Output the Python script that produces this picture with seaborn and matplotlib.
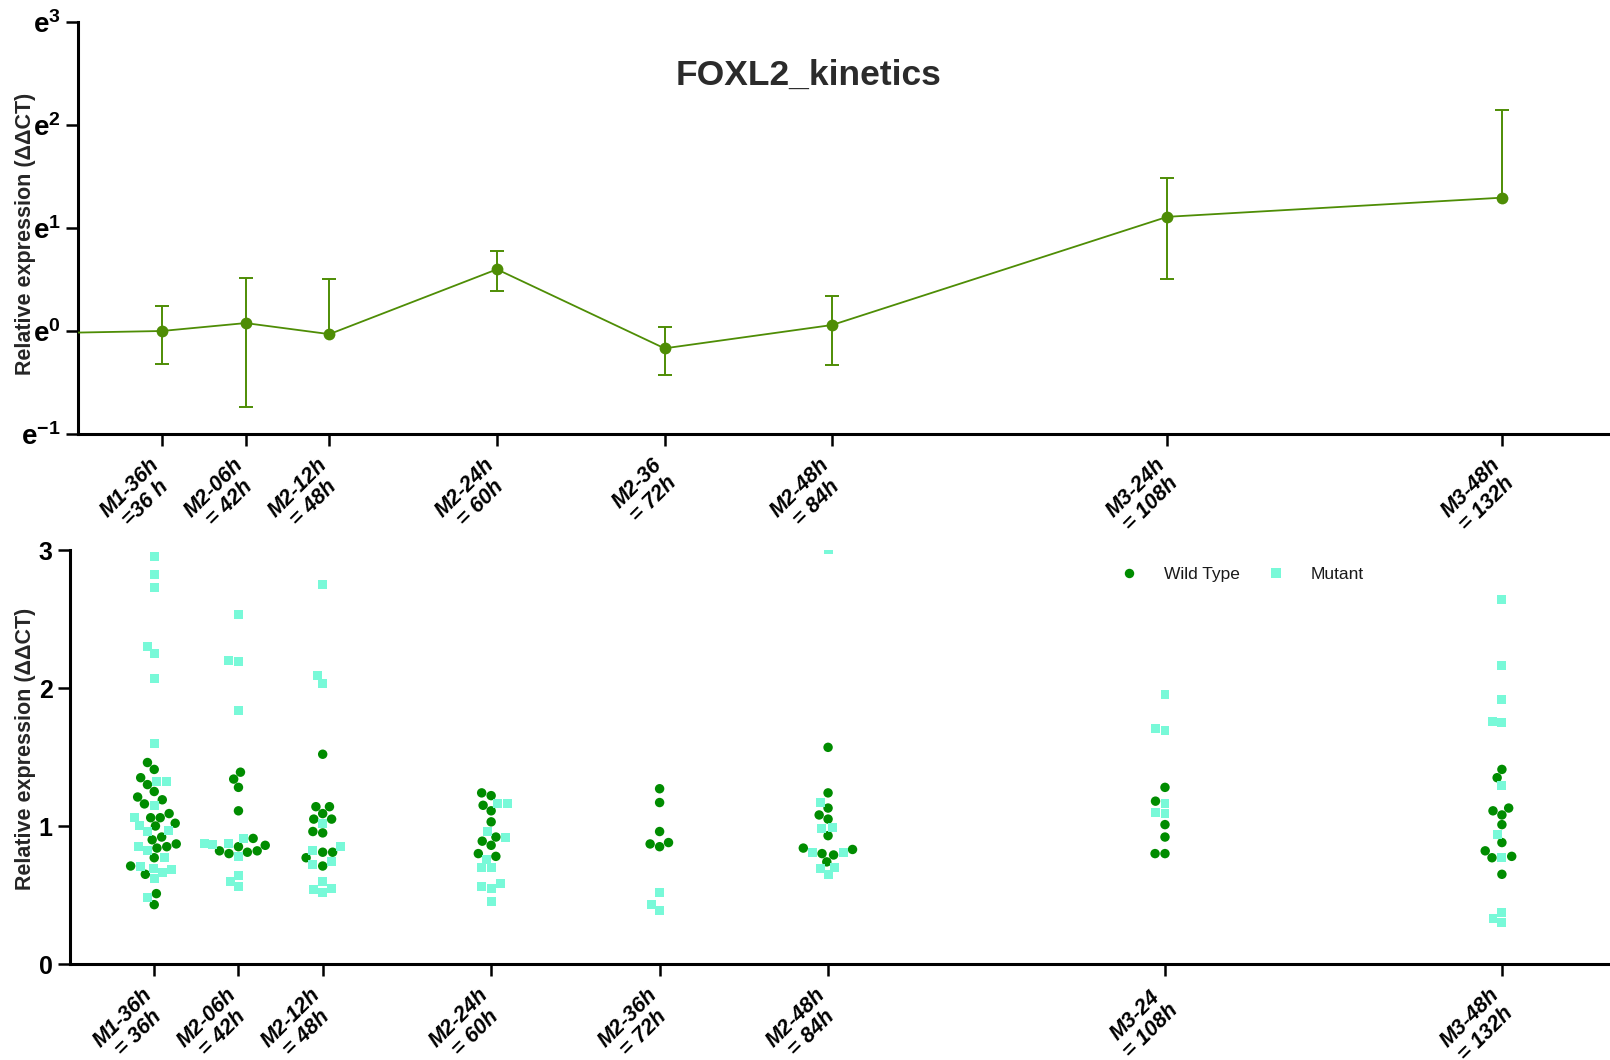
import numpy as np
import pandas as pd
import matplotlib
matplotlib.use("Agg")
import matplotlib.pyplot as plt
import seaborn as sns
from matplotlib.markers import MarkerStyle
from matplotlib.lines import Line2D
from matplotlib.colors import to_rgba
from matplotlib.ticker import NullLocator
from matplotlib.transforms import ScaledTranslation

# ---------------- data ----------------
# kinetics summary (mean +/- SD of relative expression)
kin_hours = [24, 36, 42, 48, 60, 72, 84, 108, 132]
kin_mean = [0.97, 1.00, 1.08, 0.97, 1.82, 0.845, 1.06, 3.03, 3.65]
kin_sd = [np.nan, 0.275, 0.60, 0.68, 0.35, 0.19, 0.34, 1.37, 4.92]

tick_hours = [36, 42, 48, 60, 72, 84, 108, 132]
top_labels = ["M1-36h\n=36 h", "M2-06h\n= 42h", "M2-12h\n= 48h", "M2-24h\n= 60h",
              "M2-36\n= 72h", "M2-48h\n= 84h", "M3-24h\n= 108h", "M3-48h\n= 132h"]
bottom_labels = ["M1-36h\n= 36h", "M2-06h\n= 42h", "M2-12h\n= 48h", "M2-24h\n= 60h",
                 "M2-36h\n= 72h", "M2-48h\n= 84h", "M3-24\n= 108h", "M3-48h\n= 132h"]

# individual replicates per time point
wt_36 = [1.46, 1.41, 1.35, 1.30, 1.25, 1.21, 1.19, 1.16, 1.06, 1.09, 1.06, 1.00,
         1.02, 0.92, 0.90, 0.84, 0.85, 0.87, 0.77, 0.71, 0.65, 0.51, 0.43]
mut_36 = [2.95, 2.82, 2.73, 2.25, 2.30, 2.07, 1.60, 1.32, 1.32, 1.15, 1.06, 1.005,
          0.96, 0.97, 0.85, 0.82, 0.77, 0.71, 0.66, 0.69, 0.685, 0.62, 0.48]
wt_42 = [1.39, 1.34, 1.28, 1.11, 0.91, 0.82, 0.85, 0.86, 0.82, 0.80, 0.81]
mut_42 = [2.53, 2.20, 2.19, 1.84, 0.91, 0.87, 0.865, 0.87, 0.78, 0.64, 0.60, 0.56]
wt_48 = [1.52, 1.14, 1.14, 1.09, 1.05, 1.05, 0.96, 0.95, 0.81, 0.81, 0.77, 0.71]
mut_48 = [2.75, 2.09, 2.03, 1.02, 0.85, 0.82, 0.72, 0.74, 0.60, 0.52, 0.54, 0.55]
wt_60 = [1.24, 1.22, 1.15, 1.11, 1.03, 0.92, 0.89, 0.86, 0.78, 0.80]
mut_60 = [1.16, 1.16, 0.96, 0.92, 0.76, 0.70, 0.70, 0.56, 0.55, 0.58, 0.45]
wt_72 = [1.27, 1.17, 0.96, 0.88, 0.85, 0.87]
mut_72 = [0.52, 0.43, 0.39]
wt_84 = [1.57, 1.24, 1.13, 1.08, 1.05, 0.93, 0.84, 0.83, 0.80, 0.79, 0.74]
mut_84 = [3.00, 1.17, 0.98, 0.99, 0.81, 0.81, 0.69, 0.70, 0.65]
wt_108 = [1.28, 1.18, 1.01, 0.92, 0.80, 0.80]
mut_108 = [1.95, 1.69, 1.71, 1.16, 1.09, 1.10]
wt_132 = [1.41, 1.35, 1.08, 1.11, 1.13, 1.01, 0.88, 0.82, 0.78, 0.77, 0.65]
mut_132 = [2.64, 2.16, 1.92, 1.76, 1.75, 1.29, 0.94, 0.77, 0.37, 0.30, 0.33]

wt_groups = [wt_36, wt_42, wt_48, wt_60, wt_72, wt_84, wt_108, wt_132]
mut_groups = [mut_36, mut_42, mut_48, mut_60, mut_72, mut_84, mut_108, mut_132]

# ---------------- style ----------------
line_color = "#4E8D05"
wt_color = "#008C00"
mut_color = "#78F9D8"

sns.set_style("ticks")
plt.rcParams["font.family"] = ["Liberation Sans", "DejaVu Sans"]
plt.rcParams["mathtext.fontset"] = "custom"
plt.rcParams["mathtext.rm"] = "Liberation Sans"
plt.rcParams["mathtext.bf"] = "Liberation Sans:bold"
plt.rcParams["mathtext.it"] = "Liberation Sans:italic"

W, H = 1610, 1060
fig = plt.figure(figsize=(W / 100, H / 100), dpi=100)
ax1 = fig.add_axes([78 / W, 1 - 434 / H, 1 - 78 / W, 412 / H])
ax2 = fig.add_axes([70 / W, 1 - 964 / H, 1 - 70 / W, 414 / H])

x_limits = (30, 139.7)
xtick_kw = dict(rotation=45, ha="right", va="top", rotation_mode="anchor",
                fontsize=15.5, fontweight="bold", fontstyle="italic",
                multialignment="center", linespacing=1.1)

for ax in (ax1, ax2):
    for side in ("top", "right"):
        ax.spines[side].set_visible(False)
    for side in ("left", "bottom"):
        ax.spines[side].set_linewidth(2.2)
        ax.spines[side].set_color("black")
    ax.tick_params(axis="both", length=8.5, width=1.8, color="black",
                   direction="out", labelcolor="black")
    ax.tick_params(axis="x", pad=6)
    ax.tick_params(axis="y", pad=4)

# ---------------- top panel: kinetics ----------------
ax1.set_yscale("log", base=np.e)
sns.lineplot(x=kin_hours, y=kin_mean, ax=ax1, color=line_color, marker="o",
             markersize=8.5, markeredgewidth=0, linewidth=1.3, errorbar=None,
             zorder=3)

kin_h = np.asarray(kin_hours, float)
kin_m = np.asarray(kin_mean, float)
kin_s = np.asarray(kin_sd, float)
y_floor = np.exp(-1)
full_bar = (kin_m - kin_s) > y_floor
upper_only = ~full_bar & ~np.isnan(kin_s)

bar_kw = dict(fmt="none", ecolor=line_color, elinewidth=1.4, capsize=4.7,
              capthick=1.4, zorder=2)
ax1.errorbar(kin_h[full_bar], kin_m[full_bar], yerr=kin_s[full_bar], **bar_kw)
up = ax1.errorbar(kin_h[upper_only], kin_m[upper_only],
                  yerr=[np.zeros(upper_only.sum()), kin_s[upper_only]], **bar_kw)
up.lines[1][0].set_visible(False)  # no cap at the mean for one-sided bars

ax1.set_ylim(np.exp(-1), np.exp(3))
ax1.set_yticks(np.exp([-1, 0, 1, 2, 3]),
               [r"$\mathbf{e}^{\mathbf{-1}}$", r"$\mathbf{e}^{\mathbf{0}}$",
                r"$\mathbf{e}^{\mathbf{1}}$", r"$\mathbf{e}^{\mathbf{2}}$",
                r"$\mathbf{e}^{\mathbf{3}}$"], fontsize=20)
ax1.yaxis.set_minor_locator(NullLocator())
ax1.set_xlim(*x_limits)
ax1.set_xticks(tick_hours, top_labels, **xtick_kw)
ax1.set_xlabel("")
ax1.set_ylabel("")

# ---------------- bottom panel: replicates ----------------
rows = []
for h, wt, mut in zip(tick_hours, wt_groups, mut_groups):
    rows += [(h, v, "Wild Type") for v in wt]
    rows += [(h, v, "Mutant") for v in mut]
df = pd.DataFrame(rows, columns=["hours", "value", "genotype"])

sns.swarmplot(data=df, x="hours", y="value", hue="genotype",
              hue_order=["Wild Type", "Mutant"], palette=[wt_color, mut_color],
              native_scale=True, size=6.8, linewidth=0, legend=False, ax=ax2)

# circles for wild type, squares for mutant within each swarm
circ = MarkerStyle("o")
sq = MarkerStyle("s")
circle_path = circ.get_path().transformed(circ.get_transform())
square_path = sq.get_path().transformed(sq.get_transform().frozen().scale(0.95))
mut_rgba = np.array(to_rgba(mut_color))
for coll in ax2.collections:
    fcs = coll.get_facecolors()
    is_mut = np.all(np.isclose(fcs, mut_rgba, atol=1e-3), axis=1)
    coll.set_paths([square_path if m else circle_path for m in is_mut])

ax2.set_xlim(*x_limits)
ax2.set_ylim(0, 3)
ax2.set_yticks([0, 1, 2, 3], ["0", "1", "2", "3"], fontsize=18, fontweight="bold")
ax2.set_xticks(tick_hours, bottom_labels, **xtick_kw)
ax2.set_xlabel("")
ax2.set_ylabel("")

# nudge the rotated time-point labels so each ends just left of its tick
shift = ScaledTranslation(-0.13, 0.0, fig.dpi_scale_trans)
for ax in (ax1, ax2):
    for lab in ax.get_xticklabels():
        lab.set_transform(lab.get_transform() + shift)

handles = [
    Line2D([], [], linestyle="", marker="o", markersize=6.8, markeredgewidth=0,
           color=wt_color, label="Wild Type"),
    Line2D([], [], linestyle="", marker="s", markersize=6.5, markeredgewidth=0,
           color=mut_color, label="Mutant"),
]
ax2.legend(handles=handles, ncol=2, frameon=False, loc="center left",
           bbox_to_anchor=(1105 / W, 1 - 574 / H), bbox_transform=fig.transFigure,
           handlelength=1.0, handletextpad=1.5, columnspacing=1.6,
           borderpad=0.4, prop={"family": "Liberation Sans", "size": 12.5},
           labelcolor="#1a1a1a")

# ---------------- titles & labels ----------------
fig.text(809 / W, 1 - 85 / H, "FOXL2_kinetics", ha="center", va="baseline",
         fontsize=25.5, fontweight="bold", color="#2b2b2b")
for yc in (234, 749):
    fig.text(26 / W, 1 - yc / H, "Relative expression (ΔΔCT)", rotation=90,
             ha="center", va="center", fontsize=15.5, fontweight="bold")

fig.savefig("out.png", dpi=100)
